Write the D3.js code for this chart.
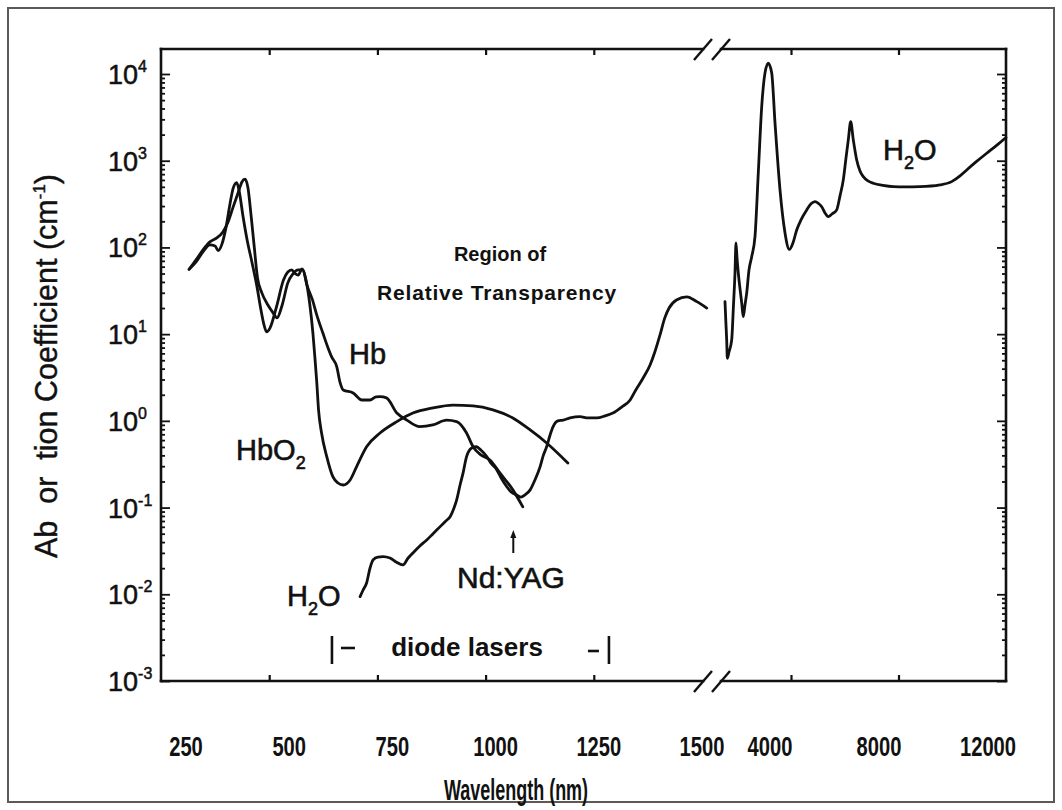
<!DOCTYPE html>
<html>
<head>
<meta charset="utf-8">
<script src="https://cdn.jsdelivr.net/npm/d3@7/dist/d3.min.js"></script>
<style>
  html, body { margin: 0; padding: 0; background: #fff; }
  svg { display: block; }
  text { fill: #111; }
</style>
</head>
<body>
<svg id="chart" width="1062" height="810"></svg>
<script>
// Deoxy-haemoglobin (Hb) absorption, wavelength in nm, coefficient in cm^-1
const hbWavelength = [315,331,347,363,379,393,405,416,428,437,444,451,458,465,473,483,497,509,518,530,543,555,567,578,587,600,610,624,636,644,656,664,671,694,714,733,747,756,771,795,818,848,878,910,933,956,971,989,1010,1033,1063,1086];
const hbAbs = [56,72,94,116,129,151,197,286,425,569,612,486,237,107,44.5,29.9,21.7,17.6,15.4,21.7,39,49.5,55,55,37,24.8,16.6,10.3,6.93,5.5,4.22,2.74,2.27,2.10,1.74,1.74,1.89,1.90,1.84,1.23,1.02,0.857,0.897,1.02,0.98,0.724,0.503,0.405,0.354,0.251,0.160,0.102];

// Oxy-haemoglobin (HbO2)
const hbo2Wavelength = [315,331,347,363,375,382,391,400,409,417,425,431,439,449,460,471,481,488,494,502,517,533,543,552,560,567,576,585,594,601,606,610,614,621,633,647,659,671,687,702,725,756,795,832,878,925,971,1017,1063,1103,1141,1190];
const hbo2Abs = [56,68,89,107,104,92,110,168,309,486,559,436,237,122,68,37,19,12.8,10.6,11.8,20.8,42,52,55,50,48,56.5,42,21.7,10.3,5.04,2.74,1.34,0.724,0.386,0.227,0.192,0.182,0.208,0.297,0.503,0.724,0.98,1.23,1.41,1.52,1.49,1.34,1.08,0.785,0.556,0.327];

// Water, visible / near infrared part (left of the axis break)
const waterVisWavelength = [710,717,725,733,740,751,763,779,793,809,821,832,848,864,878,895,908,918,927,933,941,948,956,968,979,989,1003,1012,1026,1036,1049,1059,1072,1082,1091,1103,1114,1126,1133,1141,1149,1156,1167,1179,1195,1218,1237,1257,1276,1294,1315,1334,1347,1364,1380,1391,1403,1414,1424,1441,1465,1488,1511];
const waterVisAbs = [0.0094,0.0112,0.0135,0.0201,0.0249,0.0269,0.0272,0.0262,0.0236,0.0218,0.0262,0.0299,0.0361,0.0423,0.0497,0.0603,0.070,0.0785,0.0988,0.122,0.182,0.251,0.386,0.486,0.503,0.461,0.386,0.327,0.272,0.219,0.174,0.151,0.140,0.132,0.140,0.160,0.208,0.297,0.394,0.503,0.687,0.857,0.998,1.02,1.08,1.12,1.08,1.08,1.14,1.23,1.45,1.74,2.27,3.12,4.41,6.23,9.8,15.4,20,24.8,26.9,23.7,20];

// Water, infrared part (right of the axis break)
const waterIrWavelength = [1544,1581,1607,1630,1693,1793,1860,1916,1953,1991,2039,2166,2225,2288,2352,2437,2538,2660,2783,2910,3033,3155,3282,3405,3591,3777,3937,4074,4212,4372,4584,4744,4893,5023,5142,5265,5388,5526,5701,5823,5946,6047,6132,6221,6318,6445,6567,6690,6865,7062,7423,7807,8242,8800,9544,9980,10289,10538,10884,11282,11628,12000];
const waterIrAbs = [23.7,12.8,8.57,5.27,6.23,8.57,21.7,50.8,113,75.7,50.8,22.9,15.9,21.7,29.9,55,78.3,133,723,4210,10300,13300,10300,2730,460,147,95,113,159,208,271,318,337,321,295,250,226,243,271,393,601,1080,1740,2820,1740,1020,762,656,585,550,519,502,499,502,526,574,668,783,968,1220,1480,1850];

// Axis ticks and labels
const xTicksLeft = [250, 500, 750, 1000, 1250, 1500];
const xTicksRight = [4000, 8000, 12000];
const yExponents = [-3, -2, -1, 0, 1, 2, 3, 4];
const ndYagWavelength = 1064;
const diodeRange = [645, 1285];

const svg = d3.select("#chart");
const W = 1062, H = 810;
const plotTop = 49, plotBottom = 681, plotLeft = 161, plotRight = 1006;
const breakL = 703, breakR = 721;

// Broken wavelength axis: two linear segments
const xLeft = d3.scaleLinear().domain([250, 1500]).range([plotLeft, 702]);
const xRight = d3.scaleLinear().domain([4000, 12000]).range([791, plotRight]);
const y = d3.scaleLog().domain([1e-3, 1e4]).range([plotBottom, 74]);

// Label positions along the bottom
const labelLeft = d3.scalePoint().domain(xTicksLeft.map(String)).range([186, 702]);
const labelRight = d3.scalePoint().domain(xTicksRight.map(String)).range([770, 988]);

svg.append("rect").attr("width", W).attr("height", H).attr("fill", "#fff");
svg.append("rect").attr("x", 8).attr("y", 8).attr("width", W - 16).attr("height", H - 16)
  .attr("fill", "none").attr("stroke", "#5a5a5a").attr("stroke-width", 2);

const ink = "#111";
const axisW = 2.6;
const sans = "'Liberation Sans', Arial, Helvetica, sans-serif";

// Frame with break gaps
const frame = svg.append("g").attr("stroke", ink).attr("stroke-width", axisW).attr("fill", "none").attr("stroke-linecap", "square");
frame.append("line").attr("x1", plotLeft).attr("x2", plotLeft).attr("y1", plotTop).attr("y2", plotBottom);
frame.append("line").attr("x1", plotRight).attr("x2", plotRight).attr("y1", plotTop).attr("y2", plotBottom);
[plotTop, plotBottom].forEach(yy => {
  frame.append("line").attr("x1", plotLeft).attr("x2", breakL).attr("y1", yy).attr("y2", yy);
  frame.append("line").attr("x1", breakR).attr("x2", plotRight).attr("y1", yy).attr("y2", yy);
  [breakL, breakR].forEach(bx => {
    frame.append("line").attr("x1", bx - 9).attr("y1", yy + 11).attr("x2", bx + 9).attr("y2", yy - 10)
      .attr("stroke-width", 2.4).attr("stroke-linecap", "butt");
  });
});

// Horizontal axis ticks (inside, top and bottom)
function xTickAxes(gen, scale, values, yy, size) {
  const g = svg.append("g").attr("transform", `translate(0,${yy})`)
    .call(gen(scale).tickValues(values).tickSize(size).tickFormat(""));
  g.select(".domain").remove();
  g.selectAll(".tick line").attr("stroke", ink).attr("stroke-width", 2.2);
}
const innerX = xTicksLeft.filter(v => v > 250 && v < 1500);
xTickAxes(d3.axisBottom, xLeft, innerX, plotBottom, -6);
xTickAxes(d3.axisTop, xLeft, innerX, plotTop, -6);
xTickAxes(d3.axisBottom, xRight, [4000, 8000], plotBottom, -6);
xTickAxes(d3.axisTop, xRight, [4000, 8000], plotTop, -6);

// Log ticks on the left and right axes
const majorVals = yExponents.map(e => Math.pow(10, e));
const minorVals = [];
yExponents.slice(0, -1).forEach(e => d3.range(2, 10).forEach(m => minorVals.push(m * Math.pow(10, e))));
const minorAbove = d3.range(2, 10).map(m => m * 1e4).filter(v => y(v) > plotTop + 2);
const allMinor = minorVals.concat(minorAbove);

function yTicks(gen, xx, vals, size) {
  const g = svg.append("g").attr("transform", `translate(${xx},0)`)
    .call(gen(y).tickValues(vals).tickSize(size).tickFormat(""));
  g.select(".domain").remove();
  g.selectAll(".tick line").attr("stroke", ink).attr("stroke-width", 1.8);
}
yTicks(d3.axisLeft, plotLeft, majorVals, -9);
yTicks(d3.axisLeft, plotLeft, allMinor, -4);
yTicks(d3.axisRight, plotRight, majorVals, -9);
yTicks(d3.axisRight, plotRight, allMinor, -4);

// Y tick labels: 10^n
const yLab = svg.append("g").attr("font-family", sans).attr("font-size", 27)
  .attr("stroke", ink).attr("stroke-width", 0.5);
yExponents.forEach(e => {
  const t = yLab.append("text").attr("x", 108).attr("y", y(Math.pow(10, e)) + 10);
  t.append("tspan").text("10");
  t.append("tspan").attr("dy", -12).attr("font-size", 16).text(String(e));
});

// X tick labels (condensed bold)
const xLab = svg.append("g").attr("font-family", sans)
  .attr("font-size", 28).attr("font-weight", "bold").attr("text-anchor", "middle");
xTicksLeft.forEach(v => xLab.append("text")
  .attr("transform", `translate(${labelLeft(String(v))},756) scale(0.72,1)`).text(v));
xTicksRight.forEach(v => xLab.append("text")
  .attr("transform", `translate(${labelRight(String(v))},756) scale(0.72,1)`).text(v));

// Axis titles
svg.append("text").attr("transform", "translate(516,800) scale(0.6,1)").attr("text-anchor", "middle")
  .attr("font-family", sans).attr("font-size", 30).attr("font-weight", "bold").text("Wavelength (nm)");

const yt = svg.append("text").attr("transform", "translate(57,366) rotate(-90)").attr("text-anchor", "middle")
  .attr("font-family", sans).attr("font-size", 30.5).attr("stroke", ink).attr("stroke-width", 0.4)
  .style("white-space", "pre");
yt.append("tspan").text("Ab  or  tion Coefficient (cm");
yt.append("tspan").attr("dy", -12).attr("font-size", 17).text("-1");
yt.append("tspan").attr("dy", 12).text(")");

// Curves
const plot = svg.append("g");
function drawCurve(xs, vals, xScale) {
  const pts = xs.map((w, i) => [xScale(w), y(vals[i])]);
  plot.append("path").datum(pts)
    .attr("d", d3.line().curve(d3.curveMonotoneX))
    .attr("fill", "none").attr("stroke", ink).attr("stroke-width", 2.8)
    .attr("stroke-linejoin", "round").attr("stroke-linecap", "round");
}
drawCurve(hbWavelength, hbAbs, xLeft);
drawCurve(hbo2Wavelength, hbo2Abs, xLeft);
drawCurve(waterVisWavelength, waterVisAbs, xLeft);
drawCurve(waterIrWavelength, waterIrAbs, xRight);

// Annotations
const ann = svg.append("g").attr("font-family", sans).attr("font-size", 29)
  .attr("stroke", ink).attr("stroke-width", 0.6);
function chem(xx, yy, parts) {
  const t = ann.append("text").attr("x", xx).attr("y", yy);
  let shifted = false;
  parts.forEach(([s, sub]) => {
    const sp = t.append("tspan").text(s);
    if (sub) { sp.attr("font-size", 18).attr("dy", 9); shifted = true; }
    else if (shifted) { sp.attr("dy", -9); shifted = false; }
  });
  return t;
}
ann.append("text").attr("x", 349).attr("y", 364).text("Hb");
chem(236, 460, [["HbO"], ["2", true]]);
chem(287, 606, [["H"], ["2", true], ["O", false]]);
chem(883, 160, [["H"], ["2", true], ["O", false]]);
ann.append("text").attr("x", 457).attr("y", 588).attr("font-size", 30).text("Nd:YAG");

// Nd:YAG arrow
const ax = xLeft(ndYagWavelength);
svg.append("line").attr("x1", ax).attr("x2", ax).attr("y1", 535).attr("y2", 553).attr("stroke", ink).attr("stroke-width", 2);
svg.append("path").attr("d", `M${ax - 3},${538} L${ax},${530} L${ax + 3},${538} Z`).attr("fill", ink);

// Region label
const reg = svg.append("g").attr("font-family", sans).attr("font-weight", "bold").attr("text-anchor", "middle");
reg.append("text").attr("x", 500).attr("y", 261).attr("font-size", 20).text("Region of");
reg.append("text").attr("x", 497).attr("y", 300).attr("font-size", 21).attr("letter-spacing", 0.8).text("Relative Transparency");

// Diode laser range
const dg = svg.append("g").attr("stroke", ink).attr("stroke-width", 2.6);
const dL = xLeft(diodeRange[0]), dR = xLeft(diodeRange[1]);
dg.append("line").attr("x1", dL).attr("x2", dL).attr("y1", 636).attr("y2", 664);
dg.append("line").attr("x1", dR).attr("x2", dR).attr("y1", 636).attr("y2", 664);
dg.append("line").attr("x1", dL + 9).attr("x2", dL + 23).attr("y1", 648).attr("y2", 648);
dg.append("line").attr("x1", dR - 21).attr("x2", dR - 10).attr("y1", 651).attr("y2", 651);
svg.append("text").attr("x", 467).attr("y", 656).attr("text-anchor", "middle")
  .attr("font-family", sans).attr("font-size", 26).attr("font-weight", "bold")
  .text("diode lasers");
</script>
</body>
</html>
